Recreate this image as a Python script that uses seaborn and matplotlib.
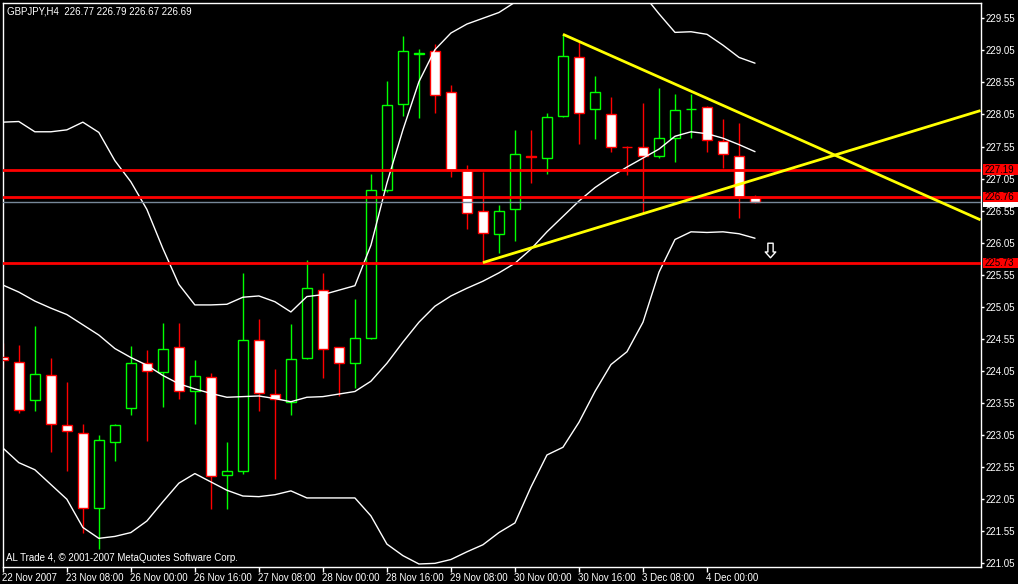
import numpy as np
import pandas as pd
import matplotlib
matplotlib.use("Agg")
import matplotlib.pyplot as plt
import seaborn as sns
from matplotlib.path import Path
from matplotlib.patches import Rectangle
from matplotlib.transforms import blended_transform_factory, ScaledTranslation

# ---------------- data ----------------
title_text = "GBPJPY,H4  226.77 226.79 226.67 226.69"
footer_text = "AL Trade 4, \u00a9 2001-2007 MetaQuotes Software Corp."

opens = [224.27, 224.19, 223.60, 223.98, 223.20, 223.09, 221.91, 222.95, 223.48, 224.18,
         224.03, 224.43, 223.74, 223.95, 222.42, 222.49, 224.54, 223.69, 223.56, 224.26,
         225.32, 224.42, 224.18, 224.57, 226.87, 228.22, 229.00, 229.04, 228.40, 227.18,
         226.54, 226.18, 226.57, 227.40, 227.37, 228.02, 228.94, 228.13, 228.05, 227.55,
         227.55, 227.41, 227.68, 228.13, 228.16, 227.63, 227.41, 226.77]
highs = [224.48, 224.45, 224.75, 224.25, 223.88, 223.23, 223.05, 223.23, 224.44, 224.38,
         224.80, 224.80, 224.22, 224.02, 222.94, 225.58, 224.86, 224.08, 224.78, 225.78,
         225.58, 224.42, 225.18, 227.12, 228.57, 229.27, 229.07, 229.15, 228.51, 227.26,
         227.15, 226.64, 227.81, 227.81, 228.07, 229.30, 229.19, 228.65, 228.32, 227.56,
         228.23, 228.46, 228.37, 228.37, 228.18, 227.98, 227.92, 226.79]
lows = [224.09, 223.40, 223.43, 222.79, 222.49, 221.52, 221.27, 222.65, 223.37, 222.96,
        223.49, 223.61, 223.23, 221.89, 221.90, 222.44, 223.43, 222.37, 223.37, 224.23,
        223.94, 223.66, 223.79, 224.55, 226.84, 228.03, 228.00, 228.08, 227.07, 226.26,
        225.74, 225.89, 226.08, 226.98, 227.12, 228.01, 227.59, 227.66, 227.47, 227.11,
        226.51, 227.37, 227.31, 227.69, 227.47, 227.22, 226.44, 226.67]
closes = [224.22, 223.44, 224.01, 223.22, 223.11, 221.91, 222.98, 223.20, 224.17, 224.05,
          224.40, 223.74, 223.97, 222.41, 222.49, 224.54, 223.70, 223.62, 224.23, 225.35,
          224.40, 224.17, 224.57, 226.87, 228.19, 229.04, 229.00, 228.35, 227.18, 226.52,
          226.20, 226.54, 227.43, 227.39, 228.01, 228.96, 228.08, 228.40, 227.54, 227.54,
          227.40, 227.69, 228.12, 228.14, 227.65, 227.43, 226.76, 226.69]

bb_mid = [225.39, 225.28, 225.14, 225.03, 224.93, 224.77, 224.61, 224.40, 224.26, 224.14,
          223.98, 223.85, 223.77, 223.70, 223.64, 223.65, 223.66, 223.62, 223.57, 223.64,
          223.65, 223.69, 223.73, 223.89, 224.17, 224.50, 224.81, 225.06, 225.22, 225.34,
          225.45, 225.58, 225.73, 225.95, 226.22, 226.46, 226.70, 226.91, 227.08, 227.23,
          227.37, 227.51, 227.71, 227.78, 227.75, 227.68, 227.58, 227.47]
bb_upper = [227.93, 227.94, 227.78, 227.78, 227.81, 227.93, 227.77, 227.33, 227.00, 226.57,
            225.96, 225.40, 225.08, 225.08, 225.09, 225.20, 225.22, 225.13, 224.97, 225.21,
            225.24, 225.31, 225.38, 226.01, 226.98, 227.81, 228.56, 229.06, 229.32, 229.46,
            229.55, 229.64, 229.80, 229.88, 229.95, 230.05, 230.15, 230.10, 230.01, 230.12,
            229.93, 229.62, 229.33, 229.34, 229.30, 229.13, 228.94, 228.85]
bb_lower = [222.85, 222.62, 222.51, 222.28, 222.05, 221.61, 221.44, 221.47, 221.53, 221.71,
            222.01, 222.30, 222.45, 222.32, 222.19, 222.10, 222.09, 222.12, 222.18, 222.07,
            222.07, 222.07, 222.07, 221.79, 221.35, 221.17, 221.04, 221.05, 221.11, 221.23,
            221.34, 221.53, 221.68, 222.24, 222.74, 222.86, 223.25, 223.73, 224.15, 224.35,
            224.81, 225.59, 226.10, 226.22, 226.21, 226.22, 226.19, 226.12]

xtick_pos = [0, 4, 8, 12, 16, 20, 24, 28, 32, 36, 40, 44]
xtick_labels = ["22 Nov 2007", "23 Nov 08:00", "26 Nov 00:00", "26 Nov 16:00",
                "27 Nov 08:00", "28 Nov 00:00", "28 Nov 16:00", "29 Nov 08:00",
                "30 Nov 00:00", "30 Nov 16:00", "3 Dec 08:00", "4 Dec 00:00"]
ytick_values = [221.05, 221.55, 222.05, 222.55, 223.05, 223.55, 224.05, 224.55, 225.05,
                225.55, 226.05, 226.55, 227.05, 227.55, 228.05, 228.55, 229.05, 229.55]

red_levels = [227.19, 226.76, 225.73]
bid_level = 226.69

trend_down_x = [35, 46]
trend_down_y = [229.30, 228.08]
trend_up_x = [30, 46]
trend_up_y = [225.74, 226.96]

arrow_x = [47.94]
arrow_y = [225.94]

# ---------------- style ----------------
sns.set_style("dark")
plt.rcParams["font.family"] = ["Liberation Sans", "DejaVu Sans"]

W, H = 1018, 584
fig = plt.figure(figsize=(W / 100, H / 100), dpi=100, facecolor="black")
ax_left, ax_right, ax_top, ax_bottom = 2.5, 980.5, 2.5, 567.0
ax = fig.add_axes([ax_left / W, (H - ax_bottom) / H,
                   (ax_right - ax_left) / W, (ax_bottom - ax_top) / H])
ax.set_facecolor("black")
ax.grid(False)

XMIN, XMAX = -0.02, 61.09
YMIN, YMAX = 220.993, 229.796
ax.set_xlim(XMIN, XMAX)
ax.set_ylim(YMIN, YMAX)

RED = "#FF0000"
GREEN = "#00FF00"
YELLOW = "#FFFF00"

df = pd.DataFrame({"idx": np.arange(len(opens)), "open": opens, "high": highs,
                   "low": lows, "close": closes, "mid": bb_mid,
                   "upper": bb_upper, "lower": bb_lower})

# candles
bull = df["close"] >= df["open"]
bw = 0.625
for is_bull, sub in ((True, df[bull]), (False, df[~bull])):
    col = GREEN if is_bull else RED
    face = "black" if is_bull else "white"
    ax.vlines(sub["idx"], sub["low"], sub["high"], color=col, lw=1.0, zorder=2)
    body_low = np.minimum(sub["open"], sub["close"])
    body_h = np.maximum(np.abs(sub["close"] - sub["open"]), 0.004)
    ax.bar(sub["idx"], body_h, bottom=body_low, width=bw, facecolor=face,
           edgecolor=col, linewidth=1.0, zorder=3)

# Bollinger bands
for col in ("upper", "mid", "lower"):
    sns.lineplot(data=df, x="idx", y=col, ax=ax, color="white", lw=1.0,
                 zorder=4, legend=False)

# horizontal levels
for lv in red_levels:
    ax.axhline(lv, color=RED, lw=2.0, zorder=5)
ax.axhline(bid_level, color="#778899", lw=1.0, zorder=5)

# trend lines (rays)
for xs, ys in ((trend_down_x, trend_down_y), (trend_up_x, trend_up_y)):
    slope = (ys[1] - ys[0]) / (xs[1] - xs[0])
    ax.plot([xs[0], XMAX], [ys[0], ys[0] + slope * (XMAX - xs[0])],
            color=YELLOW, lw=2.0, zorder=6, solid_capstyle="butt")

# down arrow sign
arrow_path = Path([(-0.18, 0.5), (0.18, 0.5), (0.18, -0.1), (0.36, -0.1), (0.0, -0.5),
                   (-0.36, -0.1), (-0.18, -0.1), (-0.18, 0.5)],
                  [Path.MOVETO] + [Path.LINETO] * 6 + [Path.CLOSEPOLY])
ax.plot(arrow_x, arrow_y, ls="none", marker=arrow_path, ms=10.5,
        mfc="black", mec="white", mew=1.0, zorder=7)

# axes / ticks
for sp in ax.spines.values():
    sp.set_color("white")
    sp.set_linewidth(1.0)
    sp.set_visible(True)

ax.set_xticks(xtick_pos)
ax.set_xticklabels(xtick_labels, ha="left")
ax.set_yticks(ytick_values)
ax.set_yticklabels([f"{v:.2f}" for v in ytick_values])
ax.yaxis.tick_right()
ax.tick_params(axis="x", direction="out", length=3.5, width=1, color="white",
               labelcolor="white", labelsize=7, pad=1, bottom=True)
ax.tick_params(axis="y", direction="out", length=2.5, width=1, color="white",
               labelcolor="white", labelsize=7, pad=1.5, right=True, left=False,
               labelright=True, labelleft=False)
for lab in ax.get_xticklabels():
    lab.set_transform(lab.get_transform() +
                      ScaledTranslation(-1 / 100, 0, fig.dpi_scale_trans))
ax.set_xlabel("")
ax.set_ylabel("")

# price labels on the right axis
trans = blended_transform_factory(ax.transAxes, ax.transData)
axw = ax_right - ax_left
px_price = (YMAX - YMIN) / (ax_bottom - ax_top)
box_h = 10.5 * px_price
# bid price box (mostly hidden under the red 226.76 label, as in MT4)
ax.add_patch(Rectangle((1.0 + 2.0 / axw, bid_level - box_h / 2), 35.0 / axw, box_h,
                       transform=trans, facecolor="white", edgecolor="none",
                       clip_on=False, zorder=19))
for lv in red_levels:
    ax.add_patch(Rectangle((1.0 + 2.0 / axw, lv - box_h / 2), 35.0 / axw, box_h,
                           transform=trans, facecolor=RED, edgecolor="none",
                           clip_on=False, zorder=20))
    ax.text(1.0 + 4.0 / axw, lv, f"{lv:.2f}", transform=trans, ha="left",
            va="center", color="black", fontsize=7, clip_on=False, zorder=21)

fig.text(7 / W, 1 - 11 / H, title_text, color="white", fontsize=7, ha="left", va="center")
fig.text(6 / W, 1 - 558 / H, footer_text, color="white", fontsize=7, ha="left", va="center")

fig.savefig("out.png", dpi=100, facecolor="black")
